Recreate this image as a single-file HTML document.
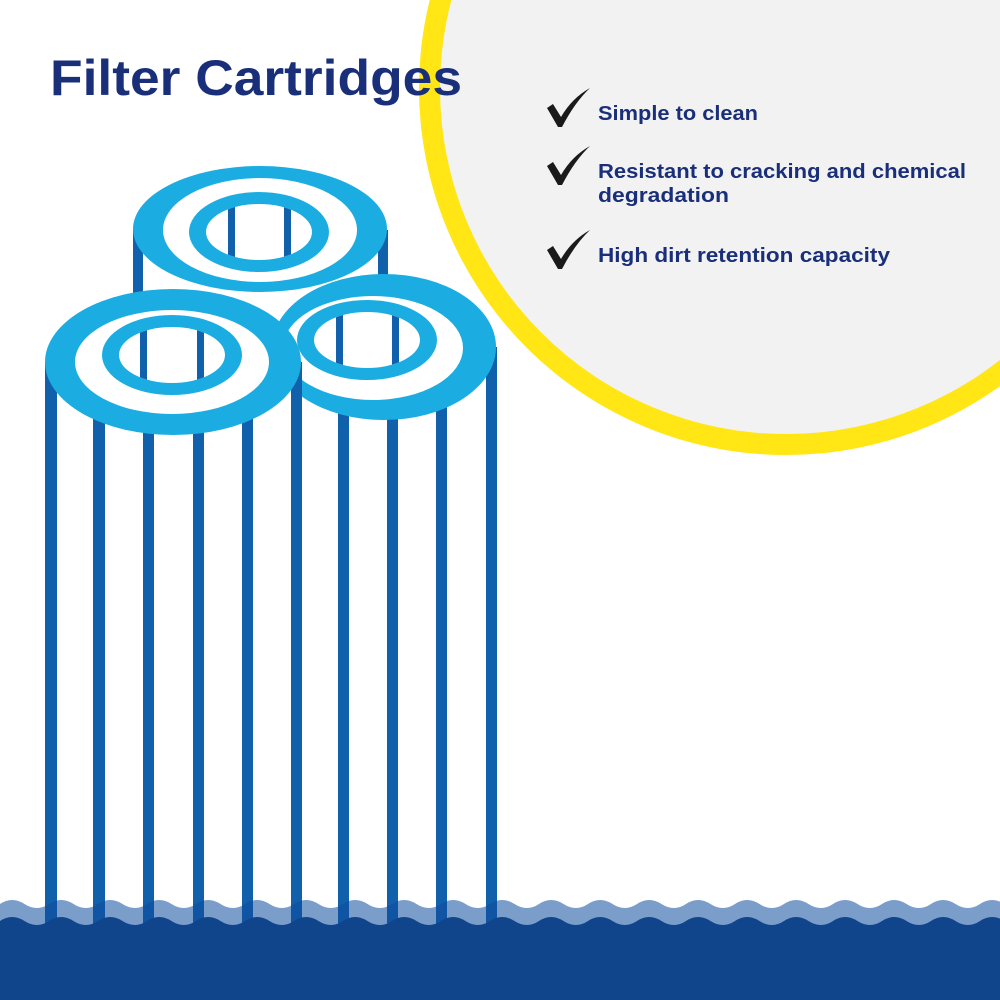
<!DOCTYPE html>
<html><head><meta charset="utf-8"><style>html,body{margin:0;padding:0;background:#fff}svg{display:block}</style></head>
<body>
<svg width="1000" height="1000" viewBox="0 0 1000 1000" xmlns="http://www.w3.org/2000/svg">
<rect width="1000" height="1000" fill="#fff"/>
<circle cx="786" cy="88" r="367" fill="#ffe614"/>
<circle cx="786" cy="88" r="346" fill="#f2f2f2"/>
<text x="50" y="95" font-family="Liberation Sans, sans-serif" font-weight="bold" font-size="50" fill="#1a2f7a" textLength="412" lengthAdjust="spacingAndGlyphs">Filter Cartridges</text>
<g fill="#1a2f7a" font-family="Liberation Sans, sans-serif" font-weight="bold" font-size="20">
<text x="598" y="120" textLength="160" lengthAdjust="spacingAndGlyphs">Simple to clean</text>
<text x="598" y="178" textLength="368" lengthAdjust="spacingAndGlyphs">Resistant to cracking and chemical</text>
<text x="598" y="202" textLength="131" lengthAdjust="spacingAndGlyphs">degradation</text>
<text x="598" y="262" textLength="292" lengthAdjust="spacingAndGlyphs">High dirt retention capacity</text>
</g>
<g fill="#1a1a1a">
<path d="M547 108 L553 104 L561 117 Q572 98 590 88 Q575 102 562 127 L558 127 Z"/>
<path d="M547 166 L553 162 L561 175 Q572 156 590 146 Q575 160 562 185 L558 185 Z"/>
<path d="M547 250 L553 246 L561 259 Q572 240 590 230 Q575 244 562 269 L558 269 Z"/>
</g>
<defs>
<clipPath id="h1"><ellipse cx="259" cy="232" rx="53" ry="28"/></clipPath>
<clipPath id="h2"><ellipse cx="367" cy="340" rx="53" ry="28"/></clipPath>
<clipPath id="h3"><ellipse cx="172" cy="355" rx="53" ry="28"/></clipPath>
</defs>
<g fill="#1160ab">
<rect x="133" y="230" width="10" height="700"/>
<rect x="378" y="230" width="10" height="700"/>
</g>
<ellipse cx="260" cy="229" rx="127" ry="63" fill="#1badE2"/>
<ellipse cx="260" cy="230" rx="97" ry="52" fill="#fff"/>
<ellipse cx="259" cy="232" rx="70" ry="40" fill="#1badE2"/>
<ellipse cx="259" cy="232" rx="53" ry="28" fill="#fff"/>
<g clip-path="url(#h1)" fill="#1160ab"><rect x="228" y="190" width="7" height="90"/><rect x="284" y="190" width="7" height="90"/></g>
<rect x="277" y="347" width="220" height="583" fill="#fff"/>
<g fill="#1160ab">
<rect x="338" y="347" width="11" height="583"/><rect x="387" y="347" width="11" height="583"/>
<rect x="436" y="347" width="11" height="583"/><rect x="486" y="347" width="11" height="583"/>
</g>
<ellipse cx="384" cy="347" rx="112" ry="73" fill="#1badE2"/>
<ellipse cx="373" cy="348" rx="90" ry="52" fill="#fff"/>
<ellipse cx="367" cy="340" rx="70" ry="40" fill="#1badE2"/>
<ellipse cx="367" cy="340" rx="53" ry="28" fill="#fff"/>
<g clip-path="url(#h2)" fill="#1160ab"><rect x="336" y="300" width="7" height="90"/><rect x="392" y="300" width="7" height="90"/></g>
<rect x="45" y="362" width="256" height="568" fill="#fff"/>
<g fill="#1160ab">
<rect x="45" y="362" width="12" height="568"/><rect x="93" y="362" width="12" height="568"/>
<rect x="143" y="362" width="11" height="568"/><rect x="193" y="362" width="11" height="568"/>
<rect x="242" y="362" width="11" height="568"/><rect x="291" y="362" width="11" height="568"/>
</g>
<ellipse cx="173" cy="362" rx="128" ry="73" fill="#1badE2"/>
<ellipse cx="172" cy="362" rx="97" ry="52" fill="#fff"/>
<ellipse cx="172" cy="355" rx="70" ry="40" fill="#1badE2"/>
<ellipse cx="172" cy="355" rx="53" ry="28" fill="#fff"/>
<g clip-path="url(#h3)" fill="#1160ab"><rect x="140" y="315" width="7" height="90"/><rect x="197" y="315" width="7" height="90"/></g>
<path fill="#0f4d9e" fill-opacity="0.55" d="M0 904 Q12 896 24.5 904 T49 904 T73.5 904 T98 904 T122.5 904 T147 904 T171.5 904 T196 904 T220.5 904 T245 904 T269.5 904 T294 904 T318.5 904 T343 904 T367.5 904 T392 904 T416.5 904 T441 904 T465.5 904 T490 904 T514.5 904 T539 904 T563.5 904 T588 904 T612.5 904 T637 904 T661.5 904 T686 904 T710.5 904 T735 904 T759.5 904 T784 904 T808.5 904 T833 904 T857.5 904 T882 904 T906.5 904 T931 904 T955.5 904 T980 904 T1004.5 904 L1000 1000 L0 1000 Z"/>
<path fill="#10458b" d="M0 921 Q12 913 24.5 921 T49 921 T73.5 921 T98 921 T122.5 921 T147 921 T171.5 921 T196 921 T220.5 921 T245 921 T269.5 921 T294 921 T318.5 921 T343 921 T367.5 921 T392 921 T416.5 921 T441 921 T465.5 921 T490 921 T514.5 921 T539 921 T563.5 921 T588 921 T612.5 921 T637 921 T661.5 921 T686 921 T710.5 921 T735 921 T759.5 921 T784 921 T808.5 921 T833 921 T857.5 921 T882 921 T906.5 921 T931 921 T955.5 921 T980 921 T1004.5 921 L1000 1000 L0 1000 Z"/>
</svg>
</body></html>
